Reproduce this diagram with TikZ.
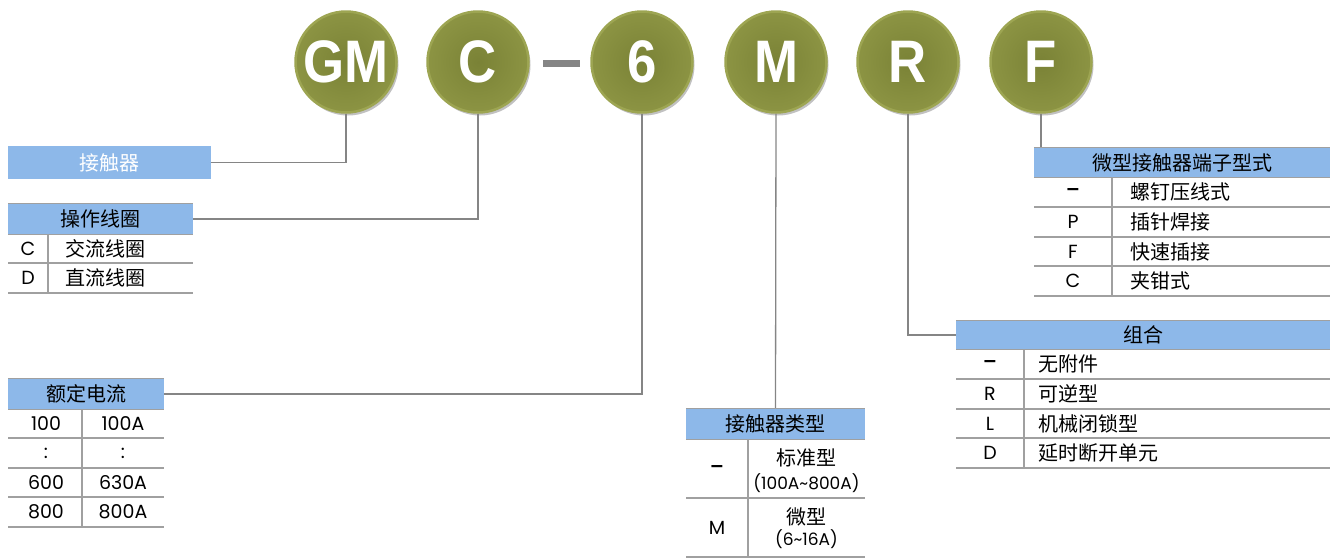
\documentclass[tikz,border=0pt]{standalone}
\usepackage{fontspec}
\newfontfamily\cjk{Noto Sans CJK SC}
\newfontfamily\lat{Poppins}
\newfontfamily\coinfont[FakeStretch=0.88]{Liberation Sans}
\newfontfamily\barfont{Liberation Sans}
\usetikzlibrary{shadows}
\definecolor{hdrblue}{HTML}{8DB8E9}
\definecolor{olive}{HTML}{7A8236}
\definecolor{olivelt}{HTML}{8C9443}
\definecolor{rim}{HTML}{9DA552}
\definecolor{lgray}{HTML}{A0A0A0}
\definecolor{cgray}{HTML}{858585}
\begin{document}
\begin{tikzpicture}[x=1pt,y=-1pt,
  coin/.style={circle, minimum size=101, inner sep=0, inner color=olive, outer color=olivelt, draw=rim, line width=2.5,
    text=white, font=\coinfont\bfseries\fontsize{60}{60}\selectfont,
    drop shadow={shadow xshift=2pt, shadow yshift=-3pt, opacity=0.35, fill=black!70}},
  sepbar/.style={rectangle, fill=cgray, inner sep=0, minimum width=37, minimum height=7},
  hdr/.style={rectangle, fill=hdrblue, inner sep=0, font=\cjk\fontsize{20}{20}\selectfont},
  ctxt/.style={inner sep=0, font=\cjk\fontsize{20}{20}\selectfont},
  ltxt/.style={inner sep=0, font=\lat\fontsize{19}{19}\selectfont},
  stxt/.style={inner sep=0, font=\lat\fontsize{17}{17}\selectfont},
  dashmk/.style={inner sep=0, font=\barfont\bfseries\fontsize{22}{22}\selectfont},
  tline/.style={draw=lgray, line width=1.3},
  conn/.style={draw=cgray, line width=1.3}]
\useasboundingbox (0,0) rectangle (1334,558);

% coins
\node[coin] (gm) at (346,62) {GM};
\node[coin] (c) at (478,62) {C};
\node[sepbar] (sep) at (561.5,63.5) {};
\node[coin] (six) at (642,62) {6};
\node[coin] (m) at (776,62) {M};
\node[coin] (r) at (908,62) {R};
\node[coin] (f) at (1041,62) {F};

% headers
\node[hdr, minimum width=203, minimum height=33, text=white] (t1) at (109.5,162.5) {接触器};
\node[hdr, minimum width=185, minimum height=30] (t2) at (100.5,219) {操作线圈};
\node[hdr, minimum width=156, minimum height=30] (t3) at (86,394) {额定电流};
\node[hdr, minimum width=179, minimum height=30] (t4) at (775.5,424) {接触器类型};
\node[hdr, minimum width=296, minimum height=29] (t5) at (1182,162.5) {微型接触器端子型式};
\node[hdr, minimum width=374, minimum height=28] (t6) at (1143,335) {组合};

% connectors
\draw[conn] (gm.south) |- (t1.east);
\draw[conn] (c.south) |- (t2.east);
\draw[conn] (six.south) |- (t3.east);
\draw[conn] (m.south) -- (t4.north);
\draw[conn] (r.south) |- (t6.west);
\draw[conn] (f.south) -- (f.south |- t5.north);

% table 2
\draw[tline] (t2.north west) -- (t2.north east);
\draw[tline] (t2.south west) -- (t2.south east);
\draw[tline] (8,263) -- (193,263);
\draw[tline] (8,293) -- (193,293);
\draw[tline] (48,234) -- (48,293);
\node[ltxt] (t2a) at (28,248.5) {C};
\node[ctxt, anchor=west] (t2b) at (65,248.5) {交流线圈};
\node[ltxt] (t2c) at (28,278) {D};
\node[ctxt, anchor=west] (t2d) at (65,278) {直流线圈};

% table 3
\draw[tline] (t3.north west) -- (t3.north east);
\draw[tline] (t3.south west) -- (t3.south east);
\draw[tline] (8,438) -- (164,438);
\draw[tline] (8,468) -- (164,468);
\draw[tline] (8,497) -- (164,497);
\draw[tline] (8,527) -- (164,527);
\draw[tline] (82,409) -- (82,527);
\node[ltxt] (t3a) at (46,423.5) {100};
\node[ltxt] (t3b) at (123,423.5) {100A};
\node[ltxt] (t3c) at (46,453) {:};
\node[ltxt] (t3d) at (123,453) {:};
\node[ltxt] (t3e) at (46,482.5) {600};
\node[ltxt] (t3f) at (123,482.5) {630A};
\node[ltxt] (t3g) at (46,512) {800};
\node[ltxt] (t3h) at (123,512) {800A};

% table 4
\draw[tline] (t4.north west) -- (t4.north east);
\draw[tline] (t4.south west) -- (t4.south east);
\draw[tline] (686,498) -- (865,498);
\draw[tline] (686,557) -- (865,557);
\draw[tline] (748,439) -- (748,557);
\node[dashmk] (t4a) at (717,468.5) {–};
\node[ctxt] (t4b) at (806.5,458) {标准型};
\node[stxt] (t4c) at (806.5,483) {(100A\textasciitilde800A)};
\node[ltxt] (t4d) at (717,527.5) {M};
\node[ctxt] (t4e) at (806.5,517) {微型};
\node[stxt] (t4f) at (806.5,539) {(6\textasciitilde16A)};

% table 5
\draw[tline] (t5.north west) -- (t5.north east);
\draw[tline] (t5.south west) -- (t5.south east);
\draw[tline] (1034,207) -- (1330,207);
\draw[tline] (1034,237) -- (1330,237);
\draw[tline] (1034,266) -- (1330,266);
\draw[tline] (1034,296) -- (1330,296);
\draw[tline] (1112,177) -- (1112,296);
\node[dashmk] (t5a) at (1073,192) {–};
\node[ctxt, anchor=west] (t5b) at (1130,192) {螺钉压线式};
\node[ltxt] (t5c) at (1073,222) {P};
\node[ctxt, anchor=west] (t5d) at (1130,222) {插针焊接};
\node[ltxt] (t5e) at (1073,251.5) {F};
\node[ctxt, anchor=west] (t5f) at (1130,251.5) {快速插接};
\node[ltxt] (t5g) at (1073,281) {C};
\node[ctxt, anchor=west] (t5h) at (1130,281) {夹钳式};

% table 6
\draw[tline] (t6.north west) -- (t6.north east);
\draw[tline] (t6.south west) -- (t6.south east);
\draw[tline] (956,379) -- (1330,379);
\draw[tline] (956,409) -- (1330,409);
\draw[tline] (956,438) -- (1330,438);
\draw[tline] (956,468) -- (1330,468);
\draw[tline] (1024,349) -- (1024,468);
\node[dashmk] (t6a) at (990,364) {–};
\node[ctxt, anchor=west] (t6b) at (1038,364) {无附件};
\node[ltxt] (t6c) at (990,394) {R};
\node[ctxt, anchor=west] (t6d) at (1038,394) {可逆型};
\node[ltxt] (t6e) at (990,423.5) {L};
\node[ctxt, anchor=west] (t6f) at (1038,423.5) {机械闭锁型};
\node[ltxt] (t6g) at (990,453) {D};
\node[ctxt, anchor=west] (t6h) at (1038,453) {延时断开单元};
\end{tikzpicture}
\end{document}
